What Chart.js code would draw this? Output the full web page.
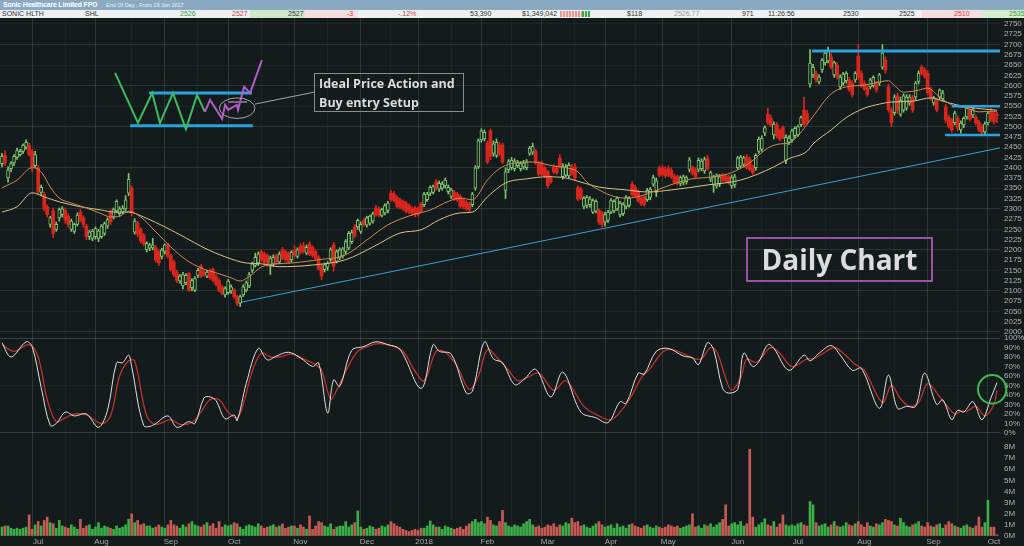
<!DOCTYPE html>
<html>
<head>
<meta charset="utf-8">
<title>Sonic Healthcare Limited FPO - Daily Chart</title>
<script src="https://cdn.jsdelivr.net/npm/chart.js@4.4.1/dist/chart.umd.min.js"></script>
<style>
  html, body { margin: 0; padding: 0; }
  body { width: 1024px; height: 546px; overflow: hidden; background: #141b1d; position: relative; font-family: "Liberation Sans", Arial, sans-serif; }
  .pane { position: absolute; left: 0; width: 1024px; }
  .pane canvas { display: block; }
  #titlebar { position: absolute; left: 0; top: 0; width: 1024px; height: 10px; background: #8aaac3; color: #fff; white-space: nowrap; }
  #titlebar b { position: absolute; left: 3px; top: 0; font-size: 7px; letter-spacing: -0.2px; line-height: 10px; }
  #titlebar span { position: absolute; left: 106px; top: 0; font-size: 5.5px; line-height: 10px; color: #eef3f7; }
  #quote { position: absolute; left: 0; top: 10px; width: 1024px; height: 8px; background: #eef0f1; font-size: 7px; line-height: 8px; color: #333; }
  #quote span { position: absolute; top: 0; white-space: nowrap; }
  #quote .cell { position: absolute; top: 0; height: 8px; }
  .up { color: #3c9a3c; } .dn { color: #d04040; } .mut { color: #999; }
  .note { position: absolute; color: #dcdcdc; font-family: "Open Sans", sans-serif; font-weight: 700; box-sizing: border-box; white-space: nowrap; }
  #setupNote { left: 314px; top: 73px; width: 150px; height: 39px; border: 1px solid #8c8c8c; font-size: 12.5px; line-height: 19px; padding: 0 0 0 4px; }
  #dailyNote { left: 746px; top: 237px; width: 187px; height: 45px; border: 2px solid #9a52a8; font-size: 28px; line-height: 40px; text-align: center; }
</style>
</head>
<body>
<div id="titlebar"><b>Sonic Healthcare Limited FPO</b><span>End Of Day , From 19 Jun 2017</span></div>
<div id="quote">
  <div class="cell" style="left:250px;width:55px;background:#cfe8c9"></div>
  <div class="cell" style="left:305px;width:53px;background:#f6dede"></div>
  <div class="cell" style="left:922px;width:60px;background:#f6dede"></div>
  <div class="cell" style="left:982px;width:42px;background:#d6eed0"></div>
  <div class="cell" style="left:560px;top:1px;width:22px;height:6px;background:repeating-linear-gradient(90deg,#e89a9a 0 2px,#f7dcdc 2px 3px)"></div>
  <div class="cell" style="left:582px;top:1px;width:8px;height:6px;background:repeating-linear-gradient(90deg,#3ea84a 0 2px,#c9eac4 2px 3px)"></div>
  <span style="left:2px">SONIC HLTH</span>
  <span style="left:85px">SHL</span>
  <span class="up" style="left:180px">2526</span>
  <span class="dn" style="left:232px">2527</span>
  <span style="left:288px">2527</span>
  <span class="dn" style="left:347px">-3</span>
  <span class="dn" style="left:398px">-.12%</span>
  <span style="left:470px">53,390</span>
  <span style="left:522px">$1,349,042</span>
  <span style="left:627px">$118</span>
  <span class="mut" style="left:674px">2526.77</span>
  <span style="left:742px">971</span>
  <span style="left:768px">11:26:56</span>
  <span style="left:843px">2530</span>
  <span style="left:899px">2525</span>
  <span class="dn" style="left:954px">2510</span>
  <span class="up" style="left:1009px">2535</span>
</div>

<div class="pane" style="top:18px;height:317px"><canvas id="priceChart" width="1024" height="317"></canvas></div>
<div class="pane" style="top:335px;height:105px"><canvas id="stochChart" width="1024" height="105"></canvas></div>
<div class="pane" style="top:440px;height:106px"><canvas id="volChart" width="1024" height="106"></canvas></div>

<div class="note" id="setupNote">Ideal Price Action and<br>Buy entry Setup</div>
<div class="note" id="dailyNote">Daily Chart</div>

<script>
// ── Price candles: [open, high, low, close] per trading day, one array per month ──
const jun17 = [
  [2410,2435,2402,2428],[2430,2442,2405,2412],[2375,2402,2365,2395],[2398,2415,2390,2410],[2412,2432,2405,2428],
  [2425,2448,2420,2442],[2432,2445,2428,2440],[2440,2458,2435,2455],[2450,2468,2445,2462],[2455,2460,2428,2432]
];
const jul17 = [
  [2440,2445,2390,2400],[2405,2440,2400,2432],[2400,2405,2335,2342],[2340,2358,2332,2352],[2335,2340,2295,2300],
  [2305,2310,2280,2286],[2262,2282,2255,2278],[2295,2302,2230,2240],[2250,2268,2245,2262],[2278,2302,2270,2298],
  [2286,2305,2280,2300],[2296,2302,2265,2272],[2282,2288,2255,2262],[2250,2275,2245,2270],[2245,2265,2240,2262],
  [2262,2290,2258,2285],[2292,2298,2268,2272],[2278,2283,2255,2262],[2258,2262,2225,2232],[2232,2248,2225,2244],
  [2228,2250,2222,2246]
];
const aug17 = [
  [2232,2256,2226,2252],[2228,2250,2220,2246],[2232,2262,2228,2258],[2240,2268,2235,2264],[2258,2278,2252,2274],
  [2292,2298,2262,2268],[2280,2302,2275,2298],[2295,2322,2290,2318],[2288,2305,2282,2300],[2292,2308,2288,2302],
  [2300,2332,2295,2322],[2338,2386,2332,2372],[2350,2356,2282,2290],[2243,2276,2238,2270],[2265,2270,2232,2238],
  [2250,2254,2216,2222],[2236,2240,2210,2215],[2200,2220,2195,2216],[2204,2216,2198,2212],[2205,2228,2200,2212],
  [2205,2210,2170,2175],[2196,2200,2162,2168],[2184,2204,2178,2200]
];
const sep17 = [
  [2196,2215,2190,2212],[2212,2216,2180,2185],[2186,2190,2148,2152],[2170,2175,2135,2140],[2145,2150,2120,2126],
  [2124,2140,2118,2136],[2112,2145,2105,2140],[2120,2142,2115,2138],[2142,2146,2098,2102],[2108,2130,2100,2125],
  [2102,2135,2098,2130],[2138,2155,2132,2150],[2160,2165,2132,2136],[2146,2150,2136,2140],[2136,2150,2132,2146],
  [2150,2154,2128,2132],[2152,2156,2122,2126],[2136,2140,2112,2116],[2126,2130,2098,2102],[2110,2114,2090,2094],
  [2090,2110,2085,2106]
];
const oct17 = [
  [2096,2128,2092,2124],[2100,2115,2094,2110],[2102,2106,2082,2086],[2086,2090,2064,2070],[2070,2090,2062,2086],
  [2090,2115,2086,2110],[2102,2124,2098,2120],[2112,2145,2108,2140],[2150,2170,2145,2166],[2162,2192,2158,2182],
  [2168,2195,2162,2190],[2196,2200,2172,2176],[2190,2195,2166,2170],[2186,2190,2160,2165],[2160,2185,2140,2180],
  [2165,2188,2160,2182],[2186,2190,2165,2170],[2170,2195,2166,2190],[2200,2206,2176,2180],[2196,2200,2172,2176],
  [2192,2196,2168,2172],[2176,2198,2170,2194]
];
const nov17 = [
  [2200,2210,2182,2186],[2184,2205,2180,2200],[2208,2215,2190,2194],[2210,2218,2192,2196],[2192,2212,2188,2206],
  [2214,2220,2186,2190],[2206,2210,2182,2186],[2196,2200,2176,2180],[2182,2186,2150,2155],[2160,2164,2127,2136],
  [2152,2168,2146,2164],[2158,2172,2150,2168],[2176,2205,2170,2200],[2212,2218,2148,2160],[2172,2200,2168,2196],
  [2180,2205,2176,2200],[2185,2206,2180,2202],[2196,2225,2190,2220],[2205,2245,2200,2240],[2220,2248,2215,2242],
  [2256,2262,2230,2234],[2256,2275,2250,2272]
];
const dec17 = [
  [2245,2268,2240,2262],[2272,2278,2258,2262],[2260,2282,2255,2278],[2265,2285,2260,2282],[2270,2292,2265,2288],
  [2302,2308,2282,2286],[2300,2305,2280,2284],[2284,2302,2280,2298],[2290,2312,2285,2308],[2296,2318,2290,2314],
  [2338,2345,2318,2322],[2336,2342,2316,2320],[2328,2332,2302,2306],[2322,2326,2300,2304],[2318,2322,2296,2300],
  [2314,2318,2290,2294],[2308,2312,2288,2292],[2300,2305,2284,2290],[2302,2306,2280,2286]
];
const jan18 = [
  [2300,2304,2282,2286],[2312,2316,2290,2294],[2310,2340,2305,2336],[2322,2340,2318,2336],[2338,2356,2332,2352],
  [2340,2358,2336,2354],[2366,2372,2346,2350],[2348,2368,2342,2362],[2350,2366,2345,2360],[2356,2375,2350,2370],
  [2342,2358,2336,2352],[2330,2350,2325,2346],[2340,2345,2320,2324],[2336,2340,2318,2322],[2330,2334,2302,2306],
  [2322,2326,2300,2305],[2316,2320,2296,2300],[2312,2316,2292,2298],[2310,2340,2305,2336],[2350,2405,2345,2400],
  [2402,2470,2398,2466]
];
const feb18 = [
  [2468,2495,2462,2490],[2470,2492,2465,2486],[2460,2465,2410,2414],[2490,2495,2420,2428],[2435,2465,2428,2458],
  [2430,2470,2425,2462],[2455,2462,2428,2434],[2455,2460,2410,2414],[2345,2400,2325,2390],[2395,2420,2388,2415],
  [2400,2425,2395,2418],[2398,2422,2392,2416],[2405,2418,2400,2412],[2398,2415,2392,2410],[2402,2418,2396,2412],
  [2400,2420,2395,2414],[2435,2452,2430,2448],[2438,2460,2432,2452],[2440,2445,2408,2414],[2410,2415,2380,2385]
];
const mar18 = [
  [2412,2416,2380,2384],[2400,2404,2376,2380],[2390,2394,2350,2356],[2375,2380,2362,2366],[2402,2408,2385,2390],
  [2400,2405,2384,2388],[2424,2432,2400,2404],[2378,2410,2372,2404],[2382,2408,2378,2402],[2380,2412,2376,2406],
  [2402,2408,2382,2386],[2402,2410,2370,2375],[2352,2356,2320,2324],[2348,2352,2322,2326],[2306,2330,2300,2326],
  [2308,2332,2302,2328],[2310,2330,2304,2324],[2292,2324,2288,2320],[2294,2322,2290,2318],[2296,2300,2262,2268],
  [2290,2294,2256,2262]
];
const apr18 = [
  [2268,2292,2258,2286],[2272,2296,2266,2292],[2292,2325,2288,2320],[2295,2322,2290,2318],[2300,2330,2296,2326],
  [2285,2318,2280,2314],[2288,2315,2283,2310],[2306,2332,2300,2328],[2308,2330,2304,2326],[2360,2366,2330,2334],
  [2352,2358,2328,2332],[2342,2346,2316,2320],[2326,2330,2308,2312],[2328,2332,2306,2310],[2322,2350,2318,2345],
  [2328,2352,2322,2348],[2360,2382,2355,2376],[2340,2375,2330,2368],[2398,2404,2378,2382]
];
const may18 = [
  [2400,2406,2380,2384],[2396,2402,2376,2380],[2398,2404,2378,2382],[2394,2400,2374,2378],[2380,2385,2360,2364],
  [2378,2382,2358,2362],[2362,2380,2356,2376],[2364,2382,2358,2378],[2366,2380,2360,2376],[2396,2425,2390,2419],
  [2400,2404,2382,2386],[2395,2400,2374,2378],[2396,2424,2390,2418],[2398,2422,2392,2416],[2392,2426,2386,2420],
  [2422,2430,2394,2398],[2372,2392,2366,2388],[2358,2382,2340,2378],[2356,2385,2350,2380],[2360,2384,2354,2378],
  [2382,2386,2366,2370],[2380,2384,2364,2368],[2378,2382,2360,2364]
];
const jun18 = [
  [2356,2382,2350,2376],[2358,2384,2352,2378],[2400,2428,2396,2424],[2404,2430,2400,2426],[2408,2428,2402,2424],
  [2426,2432,2396,2400],[2420,2426,2392,2396],[2402,2406,2384,2388],[2400,2434,2394,2430],[2440,2475,2435,2470],
  [2445,2478,2440,2472],[2484,2502,2478,2498],[2530,2545,2505,2510],[2520,2528,2500,2504],[2480,2512,2470,2506],
  [2505,2510,2472,2478],[2490,2495,2466,2470],[2498,2502,2470,2474],[2418,2480,2410,2474],[2462,2478,2456,2472]
];
const jul18 = [
  [2468,2494,2462,2490],[2478,2500,2472,2496],[2480,2504,2476,2500],[2505,2526,2500,2522],[2540,2572,2500,2506],
  [2532,2540,2506,2512],[2604,2688,2596,2655],[2626,2652,2620,2645],[2630,2636,2608,2614],[2609,2626,2604,2621],
  [2638,2666,2632,2662],[2655,2684,2650,2679],[2660,2694,2655,2684],[2670,2678,2640,2645],[2626,2660,2620,2656],
  [2650,2656,2616,2622],[2597,2626,2590,2621],[2606,2632,2600,2628],[2612,2634,2606,2630],[2614,2620,2586,2590],
  [2606,2612,2572,2578],[2614,2634,2608,2630]
];
const aug18 = [
  [2672,2700,2616,2622],[2630,2636,2596,2602],[2606,2612,2588,2592],[2594,2600,2574,2578],[2597,2618,2592,2614],
  [2600,2624,2596,2620],[2604,2610,2584,2590],[2606,2630,2600,2626],[2645,2700,2640,2679],[2662,2670,2630,2638],
  [2597,2604,2535,2541],[2540,2546,2500,2509],[2534,2578,2528,2572],[2575,2582,2532,2540],[2530,2572,2525,2565],
  [2540,2580,2535,2575],[2545,2578,2540,2572],[2557,2578,2552,2572],[2570,2576,2535,2541],[2572,2610,2566,2606],
  [2610,2636,2604,2630],[2645,2650,2626,2630],[2638,2644,2618,2622]
];
const sep18 = [
  [2630,2636,2578,2582],[2590,2596,2564,2570],[2558,2574,2552,2570],[2565,2570,2536,2541],[2572,2592,2566,2589],
  [2568,2588,2562,2582],[2548,2554,2510,2516],[2523,2528,2496,2500],[2516,2520,2486,2492],[2510,2538,2504,2533],
  [2520,2526,2490,2496],[2492,2514,2484,2509],[2504,2524,2498,2520],[2524,2550,2518,2545],[2540,2546,2514,2518],
  [2528,2548,2522,2543],[2523,2528,2504,2509],[2511,2516,2488,2492],[2500,2506,2478,2486],[2487,2512,2480,2507]
];
const oct18 = [
  [2509,2536,2504,2533],[2538,2544,2512,2518],[2533,2538,2506,2512],[2530,2535,2510,2527]
];
const candleMonths = [jun17, jul17, aug17, sep17, oct17, nov17, dec17, jan18, feb18, mar18, apr18, may18, jun18, jul18, aug18, sep18, oct18];
const monthLabels = ['Jul', 'Aug', 'Sep', 'Oct', 'Nov', 'Dec', '2018', 'Feb', 'Mar', 'Apr', 'May', 'Jun', 'Jul', 'Aug', 'Sep', 'Oct'];

// ── Volume, millions of shares per day ──
const volumeM = [
  0.8,0.9,0.9,0.7,0.6,0.7,0.6,0.7,0.8,1.9,
  0.6,1.0,1.3,0.9,1.4,1.7,1.2,1.1,0.7,1.4,0.9,0.8,0.7,1.0,0.8,0.6,1.5,0.7,0.9,1.0,0.6,
  0.8,1.2,0.7,0.9,0.8,0.7,0.6,0.9,0.7,0.8,1.0,1.5,2.0,1.2,1.4,1.0,1.1,0.9,0.9,0.7,0.8,1.0,0.8,
  0.7,1.0,1.4,1.0,0.9,0.7,1.0,0.8,1.1,1.3,1.0,0.9,0.8,1.0,1.2,0.9,1.1,0.7,1.3,0.8,1.0,
  0.9,1.0,1.2,1.1,0.8,0.6,0.9,1.0,0.9,0.8,1.1,0.9,0.7,0.8,0.9,1.0,0.8,0.9,1.1,0.7,0.8,0.9,
  0.9,0.7,1.0,0.8,0.6,1.8,0.6,0.9,1.3,1.2,0.9,0.8,1.1,0.6,0.8,0.9,0.9,1.3,0.8,1.0,1.2,2.25,
  0.8,0.6,0.7,0.9,0.8,0.6,0.7,0.9,0.8,1.0,1.3,1.1,0.9,0.8,0.6,0.5,0.4,0.5,0.6,
  0.5,0.7,0.7,0.9,1.35,1.0,0.8,0.8,0.6,0.9,0.8,0.7,0.6,0.7,0.8,0.6,0.9,1.1,1.3,1.5,1.2,
  1.3,1.1,1.7,1.4,1.0,0.9,1.3,2.3,1.2,0.9,0.8,1.0,0.9,0.8,1.1,1.3,1.5,1.0,0.8,0.9,
  0.7,0.8,1.0,0.9,1.1,0.8,1.0,0.9,1.2,1.1,1.6,1.2,1.3,0.9,1.0,0.8,0.7,0.9,1.1,1.3,1.0,
  0.8,0.9,1.0,0.7,1.1,0.8,0.9,0.7,1.0,1.1,0.9,0.8,0.7,0.9,1.0,0.8,0.7,0.9,0.8,
  0.7,0.8,1.0,0.9,0.8,0.9,0.7,0.8,0.9,1.0,2.0,0.8,0.9,0.7,1.0,0.9,1.1,0.8,1.0,1.2,1.5,2.8,0.9,
  1.1,1.2,1.0,1.3,0.9,1.1,7.8,1.7,0.8,1.0,1.2,1.55,1.0,0.9,1.3,0.8,1.1,1.9,1.0,0.9,
  1.0,0.9,1.1,1.2,1.0,0.9,3.1,2.8,1.2,0.9,1.0,1.1,0.8,1.0,1.3,0.9,0.8,0.9,1.2,1.0,0.9,1.1,
  1.3,1.0,0.8,1.2,0.9,0.8,1.1,1.0,1.2,1.5,1.4,1.3,1.0,0.9,1.6,1.2,0.9,0.8,1.0,1.1,1.3,0.9,0.8,
  1.2,0.9,0.8,1.0,1.1,0.7,1.0,1.3,1.1,0.9,0.8,0.7,0.9,1.0,0.8,0.7,0.9,1.7,0.8,1.2,
  3.2,0.8,0.8,0.1
];

// ── Moving averages: [day index, price] ──
const fastMA = [[0,2351],[5,2370],[10,2400],[13,2390],[16,2353],[19,2326],[23,2314],[28,2302],[33,2288],[36,2280],
  [39,2282],[42,2294],[46,2280],[51,2244],[56,2207],[61,2176],[66,2156],[71,2144],[76,2132],[79,2124],[82,2135],
  [86,2158],[91,2166],[96,2168],[105,2176],[114,2188],[121,2224],[128,2261],[136,2285],[142,2297],[148,2318],
  [152,2326],[156,2322],[161,2370],[165,2398],[169,2410],[176,2414],[183,2404],[187,2400],[191,2390],[194,2365],
  [198,2346],[203,2330],[207,2326],[214,2336],[218,2348],[228,2372],[236,2378],[242,2388],[248,2412],[254,2448],
  [258,2458],[261,2460],[264,2478],[269,2525],[275,2580],[280,2597],[286,2601],[291,2609],[294,2612],[296,2600],
  [299,2584],[304,2589],[307,2594],[311,2572],[315,2553],[320,2545],[324,2536],[329,2538],[330,2536]];
const slowMA = [[0,2292],[5,2305],[10,2339],[14,2329],[19,2317],[26,2305],[33,2297],[37,2292],[42,2292],[47,2280],
  [54,2256],[61,2229],[67,2205],[74,2183],[81,2168],[86,2166],[92,2159],[103,2163],[114,2176],[123,2207],[132,2241],
  [139,2249],[145,2273],[152,2290],[156,2292],[161,2329],[167,2363],[174,2373],[181,2378],[187,2375],[192,2365],
  [198,2353],[207,2346],[214,2341],[222,2346],[234,2358],[245,2370],[256,2402],[261,2422],[267,2440],[269,2458],
  [275,2492],[280,2522],[286,2545],[291,2555],[295,2560],[302,2562],[308,2570],[313,2560],[320,2548],[327,2542],[330,2540]];

// ── Stochastic oscillator: [day index, %] ──
const stochK = [[0,95],[3,80],[8,96],[10,91],[13,48],[16,8],[18,10],[21,22],[24,18],[28,20],[32,6],[35,24],[38,74],
  [40,74],[42,82],[43,70],[47,8],[50,8],[55,18],[58,6],[62,12],[64,10],[67,37],[69,38],[71,34],[74,15],[77,19],[78,13],
  [81,52],[85,89],[88,77],[91,81],[95,85],[99,79],[103,70],[105,74],[108,21],[110,56],[112,49],[116,87],[120,91],
  [124,96],[128,93],[132,88],[139,47],[143,93],[145,86],[149,83],[154,42],[156,44],[160,96],[163,78],[166,74],
  [170,51],[173,56],[177,67],[182,38],[186,64],[192,22],[197,16],[201,11],[205,33],[207,31],[211,63],[213,62],
  [217,86],[221,89],[226,81],[229,79],[231,72],[234,95],[236,88],[239,47],[241,42],[244,46],[246,84],[249,70],
  [251,75],[254,93],[256,89],[261,66],[266,82],[268,76],[271,84],[275,92],[278,82],[282,66],[285,68],[291,26],
  [294,61],[297,26],[300,28],[303,28],[306,63],[310,30],[312,35],[315,14],[317,24],[319,22],[322,33],[325,14],
  [328,37],[330,53]];
const stochD = [[0,93],[4,86],[9,93],[12,80],[15,35],[18,12],[21,16],[24,20],[28,19],[33,10],[36,18],[39,60],[42,76],
  [44,76],[48,18],[51,9],[56,14],[59,9],[63,11],[66,22],[69,35],[72,35],[75,22],[78,16],[80,30],[83,65],[86,84],
  [89,80],[92,80],[96,83],[100,78],[104,72],[106,66],[109,36],[111,45],[114,65],[118,86],[122,92],[125,94],[129,92],
  [133,86],[137,65],[140,55],[144,86],[147,85],[151,70],[155,46],[158,60],[161,88],[164,80],[168,66],[171,55],
  [174,58],[178,63],[183,45],[187,55],[193,28],[198,18],[202,14],[206,26],[209,40],[212,58],[215,68],[219,85],
  [222,88],[227,82],[230,78],[232,78],[235,90],[237,86],[240,58],[242,45],[245,58],[247,78],[250,74],[252,80],
  [255,90],[258,84],[262,70],[267,78],[269,78],[272,83],[276,90],[279,84],[283,72],[286,66],[292,32],[295,50],
  [298,36],[301,28],[304,32],[307,52],[311,38],[313,30],[316,20],[318,23],[320,23],[323,28],[326,18],[329,30],[330,45]];

// ── Drawn annotations, in [day index, price] / [day index, %] ──
const trendLine = [[78.3,2071],[331.5,2449]];
const rangeTop = [[268.7,2684],[331.5,2684]];
const boxHigh = [[315,2550],[331.5,2550]];
const boxLow = [[312.8,2480],[331.5,2480]];
const sketchGreen = [[37.5,2631],[45.1,2509],[49.8,2582],[52.4,2509],[56.7,2582],[61.0,2494],[64.7,2577],[67.3,2536]];
const sketchPurple = [[67.3,2536],[69.0,2565],[73.0,2519],[74.0,2553],[75.0,2541],[77.9,2553],[78.3,2541],[80.3,2597],[82.3,2582],[86.2,2662]];
const sketchHigh = [[48.8,2582],[82.9,2582]];
const sketchLow = [[42.5,2502],[83.2,2502]];
const sketchMid = [[75,2560],[81.3,2560]];
const sketchPointer = [[83.9,2555],[103.5,2584]];
const setupEllipse = { x: 78, y: 2545, rx: 5.9, ry: 25 };
const stochCircle = { x: 328.4, y: 46, rx: 4.7, ry: 15 };

// ── Axis ticks ──
const priceTicks = [2000,2025,2050,2075,2100,2125,2150,2175,2200,2225,2250,2275,2300,2325,2350,2375,2400,2425,2450,2475,2500,2525,2550,2575,2600,2625,2650,2675,2700,2725,2750];
const stochTicks = [0,10,20,30,40,50,60,70,80,90,100];
const volTicks = [0,1,2,3,4,5,6,7,8];

// ── Styling ──
const BG = '#141b1d';
const UP = '#7cc86c', DOWN = '#d8261d';
const VOL_UP = '#3cae48', VOL_DOWN = '#c65a55';
const BLUE = '#2aa2de';
const GRID_MAJOR = 'rgba(255,255,255,0.11)';
const GRID_MINOR = 'rgba(255,255,255,0.04)';
const NONE = 'rgba(0,0,0,0)';
const AXIS_FONT = { family: 'Liberation Sans', size: 8 };
const X_MIN = -0.66, X_MAX = 331;

const candles = candleMonths.flat();
const isUp = candles.map(c => c[3] >= c[0]);

const monthStarts = [];
let dayCount = jun17.length;
candleMonths.slice(1).forEach(m => { monthStarts.push(dayCount); dayCount += m.length; });
const xGridTicks = [];
monthStarts.forEach((s, k) => {
  xGridTicks.push({ value: s, major: true });
  const next = k + 1 < monthStarts.length ? monthStarts[k + 1] : null;
  if (next !== null) xGridTicks.push({ value: Math.round((s + next) / 2), major: false });
});

const pts = arr => arr.map(([x, y]) => ({ x, y }));

function xScale(showLabels) {
  return {
    type: 'linear', min: X_MIN, max: X_MAX, offset: false,
    afterBuildTicks: s => { s.ticks = xGridTicks.map(t => ({ value: t.value, major: t.major })); },
    afterFit: s => { s.height = showLabels ? 9 : 0; s.paddingLeft = 0; s.paddingRight = 0; },
    border: { display: false },
    grid: { offset: false, drawTicks: false, color: c => (c.tick && c.tick.major ? GRID_MAJOR : GRID_MINOR) },
    ticks: {
      display: showLabels, autoSkip: false, maxRotation: 0, padding: 0, labelOffset: 6,
      color: '#a8a8a8', font: AXIS_FONT,
      callback: v => { const k = monthStarts.indexOf(v); return k >= 0 ? monthLabels[k] : ''; }
    }
  };
}

function yScale(min, max, tickValues, fmt, gridColor) {
  return {
    position: 'right', min, max,
    afterBuildTicks: s => { s.ticks = tickValues.map(v => ({ value: v })); },
    afterFit: s => { s.width = 24; s.paddingTop = 0; s.paddingBottom = 0; },
    border: { display: false },
    grid: { drawTicks: false, color: gridColor },
    ticks: { padding: 4, autoSkip: false, color: '#b0b0b0', font: AXIS_FONT, callback: fmt }
  };
}

const baseOptions = {
  responsive: false,
  animation: false,
  events: [],
  layout: { padding: 0 },
  plugins: { legend: { display: false }, tooltip: { enabled: false } }
};

function lineSet(data, color, width) {
  return { type: 'line', data: pts(data), borderColor: color, borderWidth: width, pointRadius: 0, tension: 0, fill: false };
}

// ellipse in data units, stroked after the datasets
function ellipsePlugin(id, shape, color, width) {
  return {
    id,
    afterDatasetsDraw(chart) {
      const { ctx, scales: { x, y } } = chart;
      const cx = x.getPixelForValue(shape.x);
      const cy = y.getPixelForValue(shape.y);
      const rx = Math.abs(x.getPixelForValue(shape.x + shape.rx) - cx);
      const ry = Math.abs(y.getPixelForValue(shape.y + shape.ry) - cy);
      ctx.save();
      ctx.strokeStyle = color;
      ctx.lineWidth = width;
      ctx.beginPath();
      ctx.ellipse(cx, cy, rx, ry, 0, 0, Math.PI * 2);
      ctx.stroke();
      ctx.restore();
    }
  };
}

// ── Price chart ──
new Chart(document.getElementById('priceChart'), {
  type: 'line',
  data: {
    datasets: [
      lineSet(sketchPointer, '#a4a4a4', 1),
      lineSet(sketchMid, '#8e5a86', 2),
      lineSet(sketchPurple, '#b15ccc', 2),
      lineSet(sketchGreen, '#3dbb5e', 2),
      lineSet(sketchHigh, BLUE, 3),
      lineSet(sketchLow, BLUE, 3),
      lineSet(rangeTop, BLUE, 3),
      lineSet(boxHigh, BLUE, 2.5),
      lineSet(boxLow, BLUE, 2.5),
      { ...lineSet(fastMA, '#c98d52', 1), cubicInterpolationMode: 'monotone' },
      { ...lineSet(slowMA, '#dcc287', 1), cubicInterpolationMode: 'monotone' },
      {
        type: 'bar', grouped: false, barThickness: 3, minBarLength: 1,
        data: candles.map((c, i) => ({ x: i, y: [c[0], c[3]] })),
        backgroundColor: ctx => (isUp[ctx.dataIndex] ? BG : DOWN),
        borderColor: ctx => (isUp[ctx.dataIndex] ? UP : DOWN),
        borderWidth: ctx => (isUp[ctx.dataIndex] ? 1 : 0),
        borderSkipped: false
      },
      {
        type: 'bar', grouped: false, barThickness: 1,
        data: candles.map((c, i) => ({ x: i, y: [c[2], c[1]] })),
        backgroundColor: ctx => (isUp[ctx.dataIndex] ? UP : DOWN)
      },
      lineSet(trendLine, '#3a9fd4', 1)
    ]
  },
  options: {
    ...baseOptions,
    scales: {
      x: xScale(false),
      y: yScale(1992.69, 2764.61, priceTicks, v => String(v),
        c => (c.tick.value % 100 === 0 ? GRID_MAJOR : (c.tick.value % 50 === 0 ? GRID_MINOR : NONE)))
    }
  },
  plugins: [ellipsePlugin('setupEllipse', setupEllipse, '#a4a4a4', 1)]
});

// ── Stochastic chart ──
new Chart(document.getElementById('stochChart'), {
  type: 'line',
  data: {
    datasets: [
      { ...lineSet(stochK, '#e2e2e2', 1), tension: 0.35 },
      { ...lineSet(stochD, '#c0332b', 1.3), tension: 0.35 }
    ]
  },
  options: {
    ...baseOptions,
    scales: {
      x: xScale(false),
      y: yScale(-7.37, 103.16, stochTicks, v => v + '%',
        c => (c.tick.value === 0 || c.tick.value === 100 ? 'rgba(255,255,255,0.16)' : (c.tick.value === 50 ? GRID_MINOR : NONE)))
    }
  },
  plugins: [ellipsePlugin('stochCircle', stochCircle, '#3dbb4e', 2)]
});

// ── Volume chart ──
new Chart(document.getElementById('volChart'), {
  type: 'bar',
  data: {
    datasets: [{
      data: volumeM.map((v, i) => ({ x: i, y: v })),
      barThickness: 2,
      backgroundColor: ctx => (isUp[ctx.dataIndex] ? VOL_UP : VOL_DOWN)
    }]
  },
  options: {
    ...baseOptions,
    scales: {
      x: xScale(true),
      y: yScale(-0.09, 8.63, volTicks, v => v + 'M', NONE)
    }
  }
});
</script>
</body>
</html>
